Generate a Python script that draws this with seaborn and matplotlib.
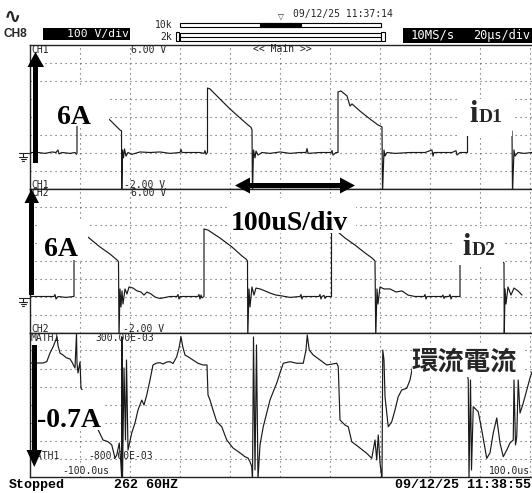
import matplotlib
matplotlib.use("Agg")
import matplotlib.pyplot as plt
from matplotlib.patches import Rectangle, Polygon
import numpy as np
import pandas as pd
import seaborn as sns

# ---------------- data (time in us, amplitude in channel units) ----------------
ch1_t = [-100, -96.8, -94, -91.2, -89.6, -88.8, -88.4, -87.2, -84, -82, -81.4, -81.2, -81.2, -76, -72, -68,
         -65.6, -64, -63.4, -63.3, -63, -62.6, -62.2, -61.6, -60.8, -59.2, -56, -52, -48, -44, -40, -39.6,
         -39.2, -36, -32, -30.4, -30, -29.6, -29, -29, -28, -24, -20, -16, -12.8, -11.6, -11.2, -11, -10.6,
         -10, -9.6, -8.8, -7.2, -4, 0, 4, 8, 10.4, 10.8, 11.2, 16, 20.4, 20.8, 21.2, 22.4, 23.2, 23.2, 24.4,
         26.8, 28, 28.8, 32, 36, 39.2, 40.8, 41, 41.6, 42, 42.8, 46, 52, 58, 60.8, 61.2, 61.6, 66, 68.8,
         70.4, 70.8, 72, 75, 75, 92.8, 93, 93.6, 94, 95.2, 97.6, 100.8]
ch1_v = [0, 0, -0.05, 0.03, 0, 0.14, -0.08, 0, -0.05, 0, -0.1, 0, 3.58, 2.9, 2.35, 1.8,
         1.47, 1.25, 1.2, -2.3, 0.14, -0.3, 0.2, -0.2, 0, -0.1, 0.03, 0, 0.03, -0.05, 0, 0.17,
         0, 0, 0, -0.05, 0.1, -0.1, 0, 3.58, 3.53, 2.97, 2.42, 1.92, 1.53, 1.4, 1.25, -2.3, 0.14,
         -0.3, 0.08, -0.14, 0, -0.05, 0.03, -0.05, 0, 0, 0.22, -0.05, 0, 0, 0.11, -0.14, 0, 0, 3.36, 3.42,
         3.14, 2.58, 2.7, 2.3, 1.86, 1.53, 1.42, -2.3, 0.14, -0.2, 0, -0.05, 0, 0, 0.14, -0.2, 0, 0, 0,
         0.1, -0.14, 0, 0, 2.86, 1.19, -2.3, 0.14, -0.2, 0, -0.05, 0]

ch2_t = [-100, -96, -92, -90.4, -90, -89.6, -88.8, -85.6, -82.6, -82.4, -82.4, -76.8, -72, -68, -65.2, -64.6,
         -64.4, -64, -63.6, -63.2, -62.8, -62, -61.2, -60.4, -58.8, -57.2, -55.6, -54.4, -53.2, -51.6, -50,
         -48, -44, -41.2, -40.8, -40.4, -40, -36, -32.8, -32.4, -32, -31.6, -31.2, -30.4, -30.4, -28.8, -24,
         -19.2, -15.2, -13.6, -13, -12.9, -12.4, -12, -11.2, -10.4, -9.6, -8, -6, -4, -1.6, 0.8, 4, 8, 8.4,
         8.8, 9.2, 14, 15.6, 16, 16.4, 16.8, 17.6, 18, 18.4, 20.6, 20.6, 23.2, 26, 30, 34, 36.8, 38, 38.3,
         38.8, 39.2, 40, 41.6, 44, 46.4, 48.8, 51.2, 54, 57.6, 58, 58.4, 58.8, 64.8, 65.2, 65.6, 66, 67.6,
         68, 68.4, 68.8, 72, 72, 89.6, 89.7, 90, 90.4, 91.2, 92.4, 93.6, 95.2, 96.8]
ch2_v = [0, 0, 0, 0, 0.11, -0.14, 0, -0.05, 0, 0, 3.92, 3.3, 2.75, 2.36, 2.03, 1.94,
         -2.3, 0.42, -0.58, 0.31, -0.42, 0.42, 0.14, 0.53, 0.47, 0.31, 0.25, 0.08, 0.25, 0.14, -0.03,
         -0.11, 0, 0, 0.11, -0.14, 0, 0, 0, 0.11, -0.14, 0.08, -0.08, 0, 3.75, 3.69, 3.25,
         2.75, 2.25, 2.08, 1.97, -2.3, 0.42, -0.58, 0.53, 0.08, 0.47, 0.42, 0.31, 0.19, 0.08, 0.03, -0.05, 0, 0.11,
         -0.14, 0, 0, 0, 0.11, -0.14, 0, 0.06, -0.11, 0, 0, 3.58, 3.58, 3.25, 2.86, 2.42, 2.14, 1.97, -2.3,
         0.42, -0.42, 0.53, 0.42, 0.42, 0.25, 0.31, 0.08, 0, 0, 0.11, -0.14, 0, 0, 0.08, -0.11, 0, 0,
         0.11, -0.14, 0, 0, 3.64, 1.86, -2.3, 0.42, -0.42, 0.53, 0.08, 0.47, 0.31, 0.08]

math_t = [-100, -97.2, -94.8, -93.3, -92, -90.8, -90, -89.2, -88.8, -88, -86.8, -85.3, -84, -83.3, -82, -81.4,
          -81.2, -80.8, -80, -79.6, -76.8, -74, -72.7, -70.8, -68.8, -67.3, -66, -65.3, -64.3, -63.7, -63.3,
          -63.2, -63, -62.4, -61.8, -61.4, -60.8, -59.3, -58, -56.8, -55.3, -54.4, -53.3, -52, -50.8, -49.3,
          -48, -46.8, -45.2, -44, -42.8, -41.3, -40.3, -39.6, -38.9, -38, -36.8, -34.8, -32.8, -30.8, -29.2,
          -28.8, -28, -26.8, -25.3, -23.3, -21.3, -18.8, -16, -14, -12.8, -12, -11.3, -11, -10.6, -10, -9.4,
          -8.8, -8, -6.7, -5.3, -4, -2.7, -1.3, 0, 1.3, 4, 6.7, 9.3, 10.4, 10.9, 11.7, 13.3, 16, 18.7, 22.7,
          23.3, 24, 26, 27.3, 28.7, 31.3, 34.7, 36.7, 38, 38.7, 39.3, 40, 40.8, 41.1, 41.6, 42, 43.3, 44.7,
          46, 47.3, 48.7, 50.7, 52, 53.3, 60, 72, 74.4, 75.3, 75.6, 76.2, 76.6, 77.3, 79.3, 80.7, 82.7, 84,
          85.3, 86.7, 88, 89.3, 90.7, 92, 93.3, 93.6, 94.2, 94.7, 95.3, 96, 97.3, 98.7, 100, 100.8]
math_v = [0.067, 0.067, 0.067, 0.077, 0.143, 0.189, 0.227, 0.268, 0.2, 0.143, 0.128, 0.105, 0.098, 0.077, 0.029, 0.29,
          0.067, -0.009, 0.075, -0.124, -0.216, -0.37, -0.445, -0.521, -0.534, -0.559, -0.659, -0.636, -0.544, -0.687, -0.82,
          0.266, -0.82, 0.029, -0.521, 0.09, -0.598, -0.467, -0.391, -0.292, -0.216, -0.254, -0.177, -0.063, 0.052, 0.067,
          0.069, 0.06, 0.075, 0.077, 0.063, 0.115, 0.191, 0.268, 0.191, 0.128, 0.115, 0.09, 0.065, 0.052, 0.052,
          -0.177, -0.216, -0.292, -0.381, -0.42, -0.521, -0.582, -0.62, -0.649, -0.659, -0.687, -0.725, -0.82, 0.266, -0.75, 0.205,
          -0.82, -0.559, -0.42, -0.315, -0.216, -0.152, -0.086, -0.009, 0.065, 0.077, 0.065, 0.065, 0.166, 0.281, 0.166, 0.128, 0.09, 0.052, 0.065,
          0.039, -0.368, -0.407, -0.42, -0.534, -0.572, -0.623, -0.661, -0.521, -0.674, -0.483, -0.697, -0.82, 0.166, 0.09, -0.19, -0.42, -0.381,
          -0.292, -0.19, -0.139, -0.126, -0.063, 0.065, 0.075, 0.067, 0.052, -0.063, -0.82, -0.063, -0.75, -0.267, -0.305, -0.445, -0.661, -0.62,
          -0.467, -0.353, -0.544, -0.649, -0.598, -0.544, -0.521, -0.063, -0.559, -0.496, -0.063, -0.315, -0.239, -0.139, -0.048, 0.0]

ch_ranges = [(-2.0, 6.0), (-2.0, 6.0), (-0.8, 0.3)]
time_range = (-100.0, 100.8)
time_grid = [-80, -60, -40, -20, 0, 20, 40, 60, 80, 100]

top_labels = ["CH1", "CH2", "MATH1"]
top_values = ["6.00 V", "6.00 V", "300.00E-03"]
bot_labels = ["CH1", "CH2", "MATH1"]
bot_values = ["-2.00 V", "-2.00 V", "-800.00E-03"]

# ---------------- figure ----------------
sns.set_style("white")
plt.rcParams['font.family'] = ['DejaVu Sans']
W, H = 532, 493
fig = plt.figure(figsize=(W / 100, H / 100), dpi=100)
fig.patch.set_facecolor("white")

MONO = "DejaVu Sans Mono"
SERIF = "Liberation Serif"
TR_COL = "#1a1a1a"
GRID_COL = "#555555"

panel_tops = [44.5, 188.5, 332.5]
panel_h = 144
series = [(ch1_t, ch1_v), (ch2_t, ch2_v), (math_t, math_v)]
axes = []
for top, (t, v), (lo, hi) in zip(panel_tops, series, ch_ranges):
    ax = fig.add_axes([30 / W, 1 - (top + panel_h) / H, (W - 30) / W, panel_h / H])
    ax.set_xlim(*time_range)
    ax.set_ylim(lo, hi)
    for gt in time_grid:
        ax.axvline(gt, color=GRID_COL, lw=0.8, ls=(0, (1, 3.5)), zorder=0)
    for gy in np.linspace(lo, hi, 9)[1:-1]:
        ax.axhline(gy, color=GRID_COL, lw=0.8, ls=(0, (1, 3.5)), zorder=0)
    df = pd.DataFrame({"t": t, "v": v})
    sns.lineplot(data=df, x="t", y="v", sort=False, estimator=None, ax=ax,
                 color=TR_COL, lw=0.85, zorder=2)
    ax.set_xticks([])
    ax.set_yticks([])
    ax.set_xlabel("")
    ax.set_ylabel("")
    ax.spines["right"].set_visible(False)
    for s in ("left", "top", "bottom"):
        ax.spines[s].set_color("#222222")
        ax.spines[s].set_linewidth(1.0)
    axes.append(ax)

# overlay in pixel coordinates for annotations
ov = fig.add_axes([0, 0, 1, 1], zorder=10)
ov.set_xlim(0, W)
ov.set_ylim(H, 0)
ov.axis("off")
ov.patch.set_alpha(0)

# white label backgrounds
for (x0, y0, x1, y1) in [(40, 87, 109, 126), (38, 220, 88, 260), (228, 198, 356, 233),
                         (458, 99, 511.5, 136), (455, 228, 503, 265), (412, 344, 522, 377),
                         (38, 390, 103, 430)]:
    ov.add_patch(Rectangle((x0, y0), x1 - x0, y1 - y0, facecolor="white", edgecolor="none", zorder=1))

# header
ov.text(4, 17, "\u223f", fontsize=15, fontweight="bold", va="center", ha="left", zorder=2)
ov.text(3, 34, "CH8", family="Liberation Sans", fontweight="bold", fontsize=8.6, va="center", zorder=2)
ov.add_patch(Rectangle((43, 27.7), 87, 12.6, facecolor="black", edgecolor="none", zorder=1))
ov.text(67, 34.3, "100 V/div", family=MONO, fontsize=8.2, color="white", va="center", zorder=2, clip_on=False)
ov.text(155, 24.5, "10k", family=MONO, fontsize=7, va="center", zorder=2)
ov.text(160, 37, "2k", family=MONO, fontsize=7, va="center", zorder=2)
ov.add_patch(Rectangle((180, 23), 201, 3.6, facecolor="white", edgecolor="black", lw=0.8, zorder=1))
ov.add_patch(Rectangle((260, 23), 41, 3.6, facecolor="black", edgecolor="black", lw=0.8, zorder=1))
ov.add_patch(Rectangle((180, 32.5), 201, 8.2, facecolor="white", edgecolor="black", lw=0.8, zorder=1))
ov.plot([180, 381], [36.6, 36.6], color="black", lw=0.8, zorder=2)
ov.add_patch(Rectangle((176, 32), 3, 9, facecolor="white", edgecolor="black", lw=0.8, zorder=2))
ov.add_patch(Rectangle((381, 32), 3.5, 9, facecolor="white", edgecolor="black", lw=0.8, zorder=2))
ov.text(278, 16, "\u25bd", family="DejaVu Sans", fontsize=5.5, va="center", zorder=2)
ov.text(293, 14.5, "09/12/25 11:37:14", family=MONO, fontsize=7, va="center", zorder=2)
ov.add_patch(Rectangle((403, 27.7), W - 403, 15.6, facecolor="black", edgecolor="none", zorder=1))
ov.text(411, 35.5, "10MS/s", family=MONO, fontsize=8.8, color="white", va="center", zorder=2)
ov.text(473, 35.5, "20\u03bcs/div", family=MONO, fontsize=8.6, color="white", va="center", zorder=2)

# channel labels
small = dict(family=MONO, fontsize=7, color="#222222", va="center", zorder=2)
ov.text(31, 50, top_labels[0], **small)
ov.text(131, 50, top_values[0], **small)
ov.text(253, 49, "<< Main >>", **small)
ov.text(31, 184.5, bot_labels[0], **small)
ov.text(124, 184.5, bot_values[0], **small)
ov.text(31, 193.5, top_labels[1], **small)
ov.text(131, 193.5, top_values[1], **small)
ov.text(31, 329.5, bot_labels[1], **small)
ov.text(123, 329.5, bot_values[1], **small)
ov.text(31, 338, top_labels[2], **small)
ov.text(95, 338, top_values[2], **small)
ov.text(31, 456, bot_labels[2], **small)
ov.text(88, 456, bot_values[2], **small)
ov.text(62, 471, "-100.0us", **small)
ov.text(489, 471, "100.0us", **small)

# ground markers
for gy in (153, 298):
    ov.plot([19, 30], [gy, gy], color="#222222", lw=0.8, zorder=2)
    ov.plot([23, 23], [gy, gy + 4], color="#222222", lw=0.8, zorder=2)
    ov.plot([19, 27], [gy + 4, gy + 4], color="#222222", lw=0.8, zorder=2)
    ov.plot([20.5, 25.5], [gy + 6, gy + 6], color="#222222", lw=0.8, zorder=2)
    ov.plot([22, 24], [gy + 8, gy + 8], color="#222222", lw=0.8, zorder=2)

# big arrows
ov.add_patch(Rectangle((33, 66), 5, 97, facecolor="black", edgecolor="none", zorder=3))
ov.add_patch(Polygon([(27.5, 67), (44, 67), (35.5, 52)], closed=True, facecolor="black", edgecolor="none", zorder=3))
ov.add_patch(Rectangle((29, 202), 5, 93, facecolor="black", edgecolor="none", zorder=3))
ov.add_patch(Polygon([(24.5, 203), (39, 203), (31.5, 189)], closed=True, facecolor="black", edgecolor="none", zorder=3))
ov.add_patch(Rectangle((32, 345), 4.6, 106, facecolor="black", edgecolor="none", zorder=3))
ov.add_patch(Polygon([(26.5, 450), (42, 450), (34.3, 467)], closed=True, facecolor="black", edgecolor="none", zorder=3))
ov.add_patch(Rectangle((249, 183), 92, 5, facecolor="black", edgecolor="none", zorder=3))
ov.add_patch(Polygon([(235, 185.5), (250, 177.5), (250, 193.5)], closed=True, facecolor="black", edgecolor="none", zorder=3))
ov.add_patch(Polygon([(355, 185.5), (340, 177.5), (340, 193.5)], closed=True, facecolor="black", edgecolor="none", zorder=3))

# big labels
big = dict(family=SERIF, fontsize=20, fontweight="bold", color="black", va="baseline", zorder=2)
ov.text(57, 124.5, "6A", **big)
ov.text(44, 256.5, "6A", **big)
ov.text(37, 427, "-0.7A", **big)
ov.text(231, 229.5, "100uS/div", family=SERIF, fontsize=20, fontweight="bold", color="black",
        va="baseline", zorder=2)
ov.text(469, 122, "i", family=SERIF, fontsize=22, fontweight="bold", va="baseline", zorder=2)
ov.text(478.5, 122, "D1", family=SERIF, fontsize=14, fontweight="bold", va="baseline", zorder=2)
ov.text(462, 255, "i", family=SERIF, fontsize=22, fontweight="bold", va="baseline", zorder=2)
ov.text(471.5, 255, "D2", family=SERIF, fontsize=14, fontweight="bold", va="baseline", zorder=2)
ov.text(412, 362, "環流電流", family=["Noto Sans CJK TC", "DejaVu Sans"], fontsize=19,
        fontweight="bold", va="center", zorder=2)

# footer
foot = dict(family="Liberation Mono", fontweight="bold", fontsize=9.6, color="black", va="baseline", zorder=2)
ov.text(9, 488, "Stopped", **foot)
ov.text(114, 488, "262 60HZ", **foot)
ov.text(395, 488, "09/12/25 11:38:55", **foot)

fig.savefig("out.png", dpi=100, facecolor="white")
